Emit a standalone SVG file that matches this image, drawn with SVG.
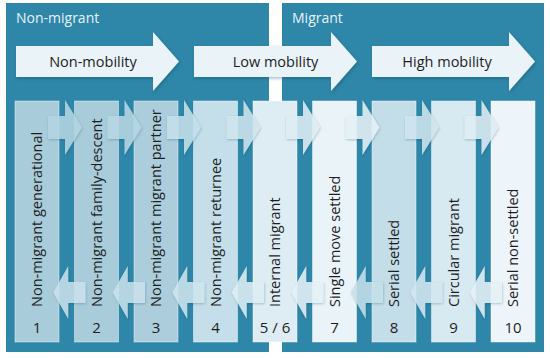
<svg xmlns="http://www.w3.org/2000/svg" xmlns:xlink="http://www.w3.org/1999/xlink" width="550" height="358" viewBox="0 0 550 358">
  <style>
    .panel { fill: #2e86a8; }
    .big { fill: #e9f3f8; filter: url(#sh); }
    .col { stroke: #ffffff; stroke-opacity: 0.45; stroke-width: 1; }
    .hdr { font-family: "Open Sans", "Noto Sans", sans-serif; font-size: 14px; fill: #e8f2f7; }
    .lbl { font-family: "Open Sans", "Noto Sans", sans-serif; font-size: 14.5px; fill: #1e1e1e; }
    .num { font-family: "Open Sans", "Noto Sans", sans-serif; font-size: 15px; fill: #1e1e1e; text-anchor: middle; }
    .mid { text-anchor: middle; }
    .arr { opacity: 0.88; filter: url(#sh2); }
  </style>
  <defs>
    <filter id="sh" x="-10%" y="-20%" width="130%" height="150%">
      <feDropShadow dx="1" dy="1.5" stdDeviation="1.5" flood-color="#0b3f55" flood-opacity="0.35"/>
    </filter>
    <filter id="sh2" x="-30%" y="-20%" width="160%" height="150%">
      <feDropShadow dx="0.5" dy="1" stdDeviation="1.2" flood-color="#0b3f55" flood-opacity="0.3"/>
    </filter>
    <path id="ra" d="M-18.75,116 H-1.75 V100 L15.25,127.5 L-1.75,155 V139 H-18.75 Z"/>
    <path id="la" d="M-13.5,292.5 L1.5,266 V282 H18.75 V303 H1.5 V319 Z"/>
  </defs>

  <g id="panel-non-migrant">
    <rect class="panel" x="6" y="3" width="263" height="349"/>
    <text class="hdr" x="16" y="23">Non-migrant</text>
  </g>
  <g id="panel-migrant">
    <rect class="panel" x="282" y="3" width="262" height="349"/>
    <text class="hdr" x="292" y="23">Migrant</text>
  </g>

  <g id="arrow-non-mobility">
    <path class="big" d="M16,46 H153 V32 L179,61.5 L153,91 V77 H16 Z"/>
    <text class="lbl mid" x="93" y="67">Non-mobility</text>
  </g>
  <g id="arrow-low-mobility">
    <path class="big" d="M194,46 H331 V32 L357,61.5 L331,91 V77 H194 Z"/>
    <text class="lbl mid" x="275.5" y="67">Low mobility</text>
  </g>
  <g id="arrow-high-mobility">
    <path class="big" d="M372,46 H509 V32 L535,61.5 L509,91 V77 H372 Z"/>
    <text class="lbl mid" x="447" y="67">High mobility</text>
  </g>

  <g id="col-1">
    <rect class="col" x="15" y="101" width="44" height="241" fill="#a9ccdb"/>
    <text class="lbl" transform="translate(42,307) rotate(-90)">Non-migrant generational</text>
    <text class="num" x="37" y="333">1</text>
  </g>
  <g id="col-2">
    <rect class="col" x="74.5" y="101" width="44" height="241" fill="#a9ccdb"/>
    <text class="lbl" transform="translate(101.5,307) rotate(-90)">Non-migrant family-descent</text>
    <text class="num" x="96.5" y="333">2</text>
  </g>
  <g id="col-3">
    <rect class="col" x="134" y="101" width="44" height="241" fill="#abcddc"/>
    <text class="lbl" transform="translate(161,307) rotate(-90)">Non-migrant migrant partner</text>
    <text class="num" x="156" y="333">3</text>
  </g>
  <g id="col-4">
    <rect class="col" x="193.5" y="101" width="44" height="241" fill="#c4deea"/>
    <text class="lbl" transform="translate(220.5,307) rotate(-90)">Non-migrant returnee</text>
    <text class="num" x="215.5" y="333">4</text>
  </g>
  <g id="col-5-6">
    <rect class="col" x="253" y="101" width="44" height="241" fill="#deedf4"/>
    <text class="lbl" transform="translate(280,307) rotate(-90)">Internal migrant</text>
    <text class="num" x="275" y="333">5 / 6</text>
  </g>
  <g id="col-7">
    <rect class="col" x="312.5" y="101" width="44" height="241" fill="#e9f3f8"/>
    <text class="lbl" transform="translate(339.5,307) rotate(-90)">Single move settled</text>
    <text class="num" x="334.5" y="333">7</text>
  </g>
  <g id="col-8">
    <rect class="col" x="372" y="101" width="44" height="241" fill="#c3dde9"/>
    <text class="lbl" transform="translate(399,307) rotate(-90)">Serial settled</text>
    <text class="num" x="394" y="333">8</text>
  </g>
  <g id="col-9">
    <rect class="col" x="431.5" y="101" width="44" height="241" fill="#d7e9f1"/>
    <text class="lbl" transform="translate(458.5,307) rotate(-90)">Circular migrant</text>
    <text class="num" x="453.5" y="333">9</text>
  </g>
  <g id="col-10">
    <rect class="col" x="491" y="101" width="44" height="241" fill="#edf5fa"/>
    <text class="lbl" transform="translate(518,307) rotate(-90)">Serial non-settled</text>
    <text class="num" x="513" y="333">10</text>
  </g>

  <g id="connectors">
    <use class="arr" xlink:href="#ra" href="#ra" x="66.75" fill="#b4d5e2"/>
    <use class="arr" xlink:href="#ra" href="#ra" x="126.25" fill="#b8d7e4"/>
    <use class="arr" xlink:href="#ra" href="#ra" x="185.75" fill="#c6e0eb"/>
    <use class="arr" xlink:href="#ra" href="#ra" x="245.25" fill="#cfe5ee"/>
    <use class="arr" xlink:href="#ra" href="#ra" x="304.75" fill="#dfeef4"/>
    <use class="arr" xlink:href="#ra" href="#ra" x="364.25" fill="#e6f1f6"/>
    <use class="arr" xlink:href="#ra" href="#ra" x="423.75" fill="#cfe4ee"/>
    <use class="arr" xlink:href="#ra" href="#ra" x="483.25" fill="#dfedf4"/>

    <use class="arr" xlink:href="#la" href="#la" x="66.75" fill="#c9e1eb"/>
    <use class="arr" xlink:href="#la" href="#la" x="126.25" fill="#c9e1eb"/>
    <use class="arr" xlink:href="#la" href="#la" x="185.75" fill="#cfe5ee"/>
    <use class="arr" xlink:href="#la" href="#la" x="245.25" fill="#dfeef4"/>
    <use class="arr" xlink:href="#la" href="#la" x="304.75" fill="#e6f1f6"/>
    <use class="arr" xlink:href="#la" href="#la" x="364.25" fill="#c6e0eb"/>
    <use class="arr" xlink:href="#la" href="#la" x="423.75" fill="#d3e7f0"/>
    <use class="arr" xlink:href="#la" href="#la" x="483.25" fill="#e6f1f6"/>
  </g>
</svg>
